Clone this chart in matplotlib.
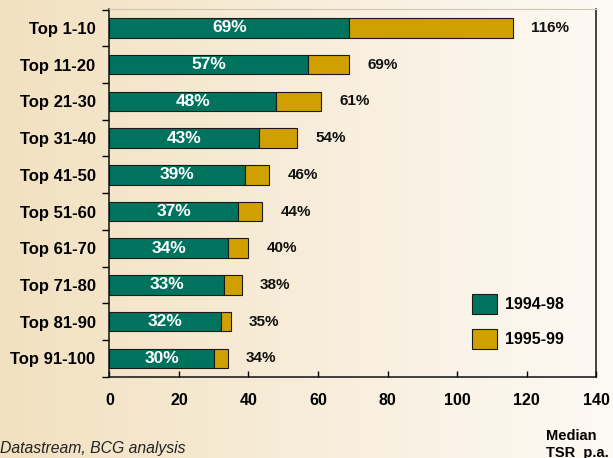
import numpy as np
import matplotlib
matplotlib.use('Agg')
import matplotlib.pyplot as plt
from matplotlib.colors import LinearSegmentedColormap

categories = ['Top 1-10', 'Top 11-20', 'Top 21-30', 'Top 31-40', 'Top 41-50',
              'Top 51-60', 'Top 61-70', 'Top 71-80', 'Top 81-90', 'Top 91-100']
tsr_1994_98 = [69, 57, 48, 43, 39, 37, 34, 33, 32, 30]
tsr_1995_99 = [116, 69, 61, 54, 46, 44, 40, 38, 35, 34]
series_labels = ['1994-98', '1995-99']
x_ticks = [0, 20, 40, 60, 80, 100, 120, 140]

plt.rcParams['font.family'] = ['Liberation Sans', 'DejaVu Sans']

fig = plt.figure(figsize=(6.13, 4.58), dpi=100)

# background gradient
bg = fig.add_axes([0, 0, 1, 1], zorder=0)
grad = np.linspace(0, 1, 256).reshape(1, -1)
cmap = LinearSegmentedColormap.from_list('bg', ['#F2E1C0', '#FDF9F4'])
bg.imshow(grad, aspect='auto', cmap=cmap, extent=[0, 1, 0, 1])
bg.axis('off')

ax = fig.add_axes([0.1786, 0.1775, 0.7937, 0.8039], zorder=1)
ax.patch.set_alpha(0)

green = '#00735F'
gold = '#D0A000'
y = np.arange(len(categories))
gold_len = np.array(tsr_1995_99) - np.array(tsr_1994_98)

b1 = ax.barh(y, tsr_1994_98, height=0.53, color=green, edgecolor='#1a1a1a',
             linewidth=0.8, label=series_labels[0])
b2 = ax.barh(y, gold_len, left=tsr_1994_98, height=0.53, color=gold,
             edgecolor='#1a1a1a', linewidth=0.8, label=series_labels[1])

for i, (v, t) in enumerate(zip(tsr_1994_98, tsr_1995_99)):
    ax.text(v / 2, i, f'{v}%', color='white', ha='center', va='center',
            fontsize=12.5, fontweight='bold')
    ax.annotate(f'{t}%', (t, i), xytext=(13, 0), textcoords='offset points',
                ha='left', va='center', fontsize=11, fontweight='bold',
                color='#111111')

ax.set_xlim(0, 140)
ax.set_ylim(9.5, -0.53)
ax.set_yticks(y)
ax.set_yticklabels(categories, fontsize=12, fontweight='bold')
ax.tick_params(axis='y', which='major', length=0, pad=10)
ax.set_yticks(np.arange(-0.5, 10, 1), minor=True)
ax.tick_params(axis='y', which='minor', length=5, direction='out', width=1)
ax.set_xticks(x_ticks)
ax.set_xticklabels([str(v) for v in x_ticks], fontsize=11.5, fontweight='bold')
ax.tick_params(axis='x', direction='in', length=4, pad=12, width=1)

for s in ['left', 'bottom', 'right']:
    ax.spines[s].set_color('#111111')
    ax.spines[s].set_linewidth(1.1)
ax.spines['top'].set_color('#cfc6b4')
ax.spines['top'].set_linewidth(0.8)

ax.legend(handles=[b1, b2], loc='upper left', bbox_to_anchor=(0.745, 0.2246),
          frameon=False, handlelength=1.57, handleheight=1.57,
          handletextpad=0.5, labelspacing=0.9, borderpad=0, borderaxespad=0,
          prop=dict(weight='bold', size=11.5))

fig.text(545.7 / 613, 1 - 440 / 458, 'Median', fontsize=10.5,
         fontweight='bold', va='baseline', ha='left')
fig.text(545.7 / 613, 1 - 456.5 / 458, 'TSR  p.a.', fontsize=10.5,
         fontweight='bold', va='baseline', ha='left')
fig.text(0, 1 - 453 / 458, 'Datastream, BCG analysis', fontsize=11.3,
         fontstyle='italic', va='baseline', ha='left', color='#222222')

fig.savefig('out.png', dpi=100)
